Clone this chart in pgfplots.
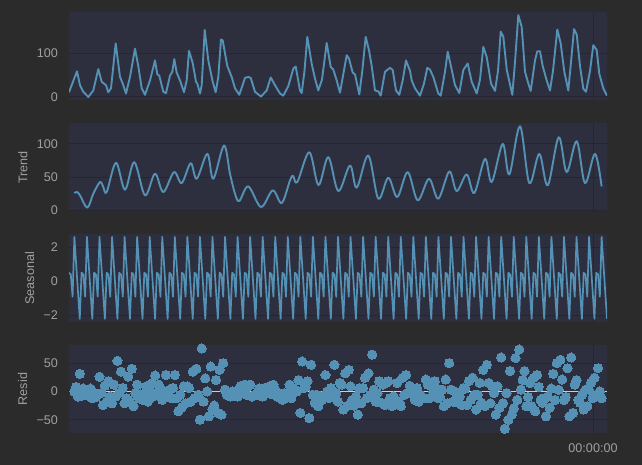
\documentclass[border=0pt]{standalone}
\usepackage{fontspec}
\setmainfont{Liberation Sans}
\usepackage{pgfplots}
\pgfplotsset{compat=1.18}
\usepackage{pgfplotstable}
\definecolor{outerbg}{RGB}{43,43,43}
\definecolor{axbg}{RGB}{46,47,62}
\definecolor{gridc}{RGB}{37,38,49}
\definecolor{linec}{RGB}{84,145,181}
\definecolor{txt}{RGB}{160,160,160}
\definecolor{zeroc}{RGB}{205,205,205}

\pgfplotstableread[header=false,row sep=\\]{
0.5\\0.4\\-0.9\\2.6\\1.0\\-0.6\\-2.2\\
0.5\\0.4\\-0.9\\2.6\\1.0\\-0.6\\-2.2\\
0.5\\0.4\\-0.9\\2.6\\1.0\\-0.6\\-2.2\\
0.5\\0.4\\-0.9\\2.6\\1.0\\-0.6\\-2.2\\
0.5\\0.4\\-0.9\\2.6\\1.0\\-0.6\\-2.2\\
0.5\\0.4\\-0.9\\2.6\\1.0\\-0.6\\-2.2\\
0.5\\0.4\\-0.9\\2.6\\1.0\\-0.6\\-2.2\\
0.5\\0.4\\-0.9\\2.6\\1.0\\-0.6\\-2.2\\
0.5\\0.4\\-0.9\\2.6\\1.0\\-0.6\\-2.2\\
0.5\\0.4\\-0.9\\2.6\\1.0\\-0.6\\-2.2\\
0.5\\0.4\\-0.9\\2.6\\1.0\\-0.6\\-2.2\\
0.5\\0.4\\-0.9\\2.6\\1.0\\-0.6\\-2.2\\
0.5\\0.4\\-0.9\\2.6\\1.0\\-0.6\\-2.2\\
0.5\\0.4\\-0.9\\2.6\\1.0\\-0.6\\-2.2\\
0.5\\0.4\\-0.9\\2.6\\1.0\\-0.6\\-2.2\\
0.5\\0.4\\-0.9\\2.6\\1.0\\-0.6\\-2.2\\
0.5\\0.4\\-0.9\\2.6\\1.0\\-0.6\\-2.2\\
0.5\\0.4\\-0.9\\2.6\\1.0\\-0.6\\-2.2\\
0.5\\0.4\\-0.9\\2.6\\1.0\\-0.6\\-2.2\\
0.5\\0.4\\-0.9\\2.6\\1.0\\-0.6\\-2.2\\
0.5\\0.4\\-0.9\\2.6\\1.0\\-0.6\\-2.2\\
0.5\\0.4\\-0.9\\2.6\\1.0\\-0.6\\-2.2\\
0.5\\0.4\\-0.9\\2.6\\1.0\\-0.6\\-2.2\\
0.5\\0.4\\-0.9\\2.6\\1.0\\-0.6\\-2.2\\
0.5\\0.4\\-0.9\\2.6\\1.0\\-0.6\\-2.2\\
0.5\\0.4\\-0.9\\2.6\\1.0\\-0.6\\-2.2\\
0.5\\0.4\\-0.9\\2.6\\1.0\\-0.6\\-2.2\\
0.5\\0.4\\-0.9\\2.6\\1.0\\-0.6\\-2.2\\
0.5\\0.4\\-0.9\\2.6\\1.0\\-0.6\\-2.2\\
0.5\\0.4\\-0.9\\2.6\\1.0\\-0.6\\-2.2\\
0.5\\0.4\\-0.9\\2.6\\1.0\\-0.6\\-2.2\\
0.5\\0.4\\-0.9\\2.6\\1.0\\-0.6\\-2.2\\
0.5\\0.4\\-0.9\\2.6\\1.0\\-0.6\\-2.2\\
0.5\\0.4\\-0.9\\2.6\\1.0\\-0.6\\-2.2\\
0.5\\0.4\\-0.9\\2.6\\1.0\\-0.6\\-2.2\\
0.5\\0.4\\-0.9\\2.6\\1.0\\-0.6\\-2.2\\
0.5\\0.4\\-0.9\\2.6\\1.0\\-0.6\\-2.2\\
0.5\\0.4\\-0.9\\2.6\\1.0\\-0.6\\-2.2\\
0.5\\0.4\\-0.9\\2.6\\1.0\\-0.6\\-2.2\\
0.5\\0.4\\-0.9\\2.6\\1.0\\-0.6\\-2.2\\
0.5\\0.4\\-0.9\\2.6\\1.0\\-0.6\\-2.2\\
0.5\\0.4\\-0.9\\2.6\\1.0\\-0.6\\-2.2\\
0.5\\0.4\\-0.9\\2.6\\1.0\\-0.6\\-2.2\\
}\seasonaldata

\pgfplotstableread[header=false,row sep=\\]{
0\\8\\-9\\31\\-8\\5\\-3\\
-6\\-8\\5\\-12\\-3\\-10\\-5\\
26\\-3\\-24\\10\\-18\\18\\-9\\
-21\\12\\-9\\54\\-3\\35\\6\\
-21\\-12\\26\\-18\\40\\-26\\-3\\
12\\-12\\-5\\-15\\-8\\9\\-18\\
3\\14\\-9\\28\\-3\\12\\3\\
-15\\0\\29\\-8\\3\\-12\\6\\
29\\-12\\-35\\-6\\-28\\9\\-21\\
9\\6\\-18\\35\\-12\\40\\-6\\
-50\\76\\-18\\23\\0\\-44\\44\\
-32\\-25\\20\\-38\\38\\-41\\50\\
3\\-6\\-6\\-9\\0\\-5\\-3\\
-9\\6\\10\\3\\12\\-6\\9\\
12\\-9\\-7\\-6\\-6\\5\\-8\\
-9\\6\\6\\0\\9\\-5\\12\\
3\\-9\\-10\\-6\\-15\\-3\\-12\\
-6\\12\\-12\\6\\3\\0\\20\\
-38\\53\\6\\8\\18\\-47\\47\\
-6\\-20\\-6\\-26\\-8\\-15\\-12\\
29\\0\\-12\\6\\-9\\47\\-3\\
-18\\15\\12\\-32\\32\\-26\\38\\
9\\-15\\-25\\-9\\-41\\6\\-21\\
6\\24\\-12\\32\\-6\\65\\3\\
-18\\-3\\18\\-20\\12\\-24\\15\\
18\\-12\\-26\\-9\\-22\\15\\-18\\
-26\\24\\-6\\29\\-3\\10\\3\\
-6\\-15\\6\\-18\\-6\\-12\\-12\\
21\\12\\-12\\15\\0\\18\\5\\
-12\\-10\\3\\-26\\21\\-21\\50\\
3\\-18\\0\\-15\\-20\\-9\\-24\\
6\\5\\-24\\18\\-15\\24\\-6\\
-32\\-6\\15\\-20\\38\\-26\\47\\
15\\-21\\9\\-3\\-41\\9\\-29\\
60\\-21\\-66\\-3\\-50\\36\\-41\\
-30\\59\\-15\\74\\3\\20\\36\\
-26\\-10\\15\\-26\\24\\-35\\29\\
8\\-15\\-20\\-12\\-44\\-9\\-29\\
5\\31\\-15\\50\\3\\56\\21\\
-15\\-10\\41\\-44\\60\\-38\\12\\
20\\-15\\-20\\-6\\-32\\3\\-26\\
3\\15\\-12\\24\\-6\\41\\0\\
-12\\
}\residdata

\pgfplotsset{
  panel/.style={
    width=538bp, height=88bp, scale only axis,
    xmin=69, xmax=607,
    axis background/.style={fill=axbg},
    axis line style={draw=none},
    grid=major,
    major grid style={draw=gridc, line width=1bp},
    major tick length=0pt,
    xtick={593},
    xticklabels={},
    ticklabel style={font=\fontsize{12.6bp}{14bp}\selectfont, text=txt},
    yticklabel style={xshift=-7.5bp},
    xticklabel style={yshift=-7bp},
    ylabel style={font=\fontsize{12.6bp}{14bp}\selectfont, text=txt, yshift=2.5bp},
    /pgf/number format/assume math mode=true,
    anchor=north west,
  },
  ser/.style={color=linec, line width=1.9bp, line join=round, mark=none},
}

\begin{document}
\begin{tikzpicture}
\fill[outerbg] (-69bp,12.3bp) rectangle (573bp,-452.7bp);

% Observed
\begin{axis}[panel, at={(0bp,0bp)}, ymin=-7.6, ymax=194.5, ytick={0,100}, yticklabels={0,100}]
\addplot[ser] coordinates {
(69,11) (73,35) (77,59) (80,27) (83.3,12) (88.3,0) (93.3,15) (98.3,64) (101.7,35) (106,27)
(108.3,11) (111,20) (115.7,123) (120,46) (122.7,31) (126,8) (130,46) (135,111) (138.3,71) (141.7,20)
(145,5) (150,38) (155,84) (157.3,52) (159.3,49) (163.3,12) (166,9) (170,49) (172.3,58) (174.3,87)
(176.7,56) (180,38) (184,11) (186.7,38) (189,106) (192.7,78) (196,35) (197.3,31) (200,8) (201.7,27)
(204.7,154) (208.3,84) (212.7,35) (215.7,11) (218.3,46) (221,132) (222.7,130) (227.3,71) (231.7,46) (235,20)
(239.3,5) (245,44) (248.3,46) (250.7,44) (255,12) (261,1) (266.7,15) (270.7,45) (275,27) (280,8)
(283.3,3) (288.3,25) (293.3,65) (295.7,70) (300,15) (301.7,9) (304.5,60) (307.3,138) (311.7,76) (315,42)
(318.3,15) (322,40) (326.7,124) (330.7,69) (333.3,63) (336.7,38) (340,10) (346.7,96) (349,88) (352.7,56)
(355,52) (359.3,6) (362.3,60) (365.7,138) (369,107) (371.7,71) (375,15) (378.3,13) (380.7,3) (385,58)
(390,67) (392.7,62) (396,15) (399.3,5) (402.7,38) (406,84) (410,60) (411.7,38) (415,20) (420,3)
(424,31) (427.3,67) (430,63) (433.3,46) (438.3,8) (440.7,3) (445,58) (447.7,104) (451.7,63) (455,27)
(459.3,9) (463.3,62) (467.7,77) (471.7,35) (476.7,8) (480,40) (483.3,115) (486.7,92) (491,31) (495,14)
(498,60) (500.7,150) (503.3,139) (506.7,63) (512.3,5) (515,80) (518.3,188) (521.7,161) (525,58) (528.3,31)
(530.7,14) (535,84) (537.3,105) (540,105) (542.7,71) (546.7,38) (550,15) (553,60) (557.3,155) (560.7,123)
(564.3,58) (568.3,15) (571,80) (574,156) (576.7,144) (580,71) (583.3,19) (586,12) (590,60) (593.3,119)
(596.7,108) (599.3,53) (603.3,20) (607,3)
};
\end{axis}

% Trend
\begin{axis}[panel, at={(0bp,-111bp)}, ymin=-1.5, ymax=131, ytick={0,50,100}, yticklabels={0,50,100}, ylabel={Trend}]
\addplot[ser, smooth, tension=0.55] coordinates {
(74.4,26) (77,27.5) (80,22.5) (87.3,4) (93.3,25) (100,42.5) (103.3,35) (106.7,27.5) (116,71.5) (125,31)
(134.3,72.5) (145,22.5) (155,55) (163.3,27.5) (174,57.5) (181.7,41) (190.7,71) (196.7,47.5) (207.3,85) (213.3,47.5)
(224,97.5) (230,55) (235,25) (239.3,14) (248.3,36) (261,5) (272.7,30) (281.7,11) (290,45) (293,52)
(297.3,42.5) (309.3,87.5) (318.5,38) (328.3,80) (338.3,29) (350,67.5) (356.7,34) (368.3,82.5) (378.3,17.5) (388.3,49)
(397.3,20) (407.7,57.5) (417.7,15) (429,47.5) (438.3,17.5) (449.3,58.5) (456.7,29) (466.7,54) (474.3,26) (485,77.5)
(491.7,42.5) (502.7,100) (509.3,54) (520,126.5) (529.3,41) (539.3,85) (547.7,37.5) (558.7,110) (566.7,57.5) (576.7,104)
(585,41) (595,85) (601.6,36)
};
\end{axis}

% Seasonal
\begin{axis}[panel, at={(0bp,-222bp)}, ymin=-2.4, ymax=2.75, ytick={-2,0,2}, yticklabels={−2,0,2}, ylabel={Seasonal}]
\addplot[ser, line width=1.7bp] table[x expr={69+1.793333*\coordindex}, y index=0] {\seasonaldata};
\end{axis}

% Resid
\begin{axis}[panel, at={(0bp,-332.7bp)}, ymin=-73.5, ymax=82, ytick={-50,0,50}, yticklabels={−50,0,50}, ylabel={Resid}, xticklabels={00:00:00}]
\addplot[color=zeroc, line width=0.9bp, mark=none] coordinates {(69,0) (607,0)};
\addplot[color=linec, only marks, mark=*, mark size=4.6bp, mark options={draw=linec, fill=linec, line width=0pt}] table[x expr={69+1.793333*(\coordindex+3)}, y index=0] {\residdata};
\end{axis}

\pgfresetboundingbox
\path[use as bounding box] (-69bp,12.3bp) rectangle (573bp,-452.7bp);
\end{tikzpicture}
\end{document}
